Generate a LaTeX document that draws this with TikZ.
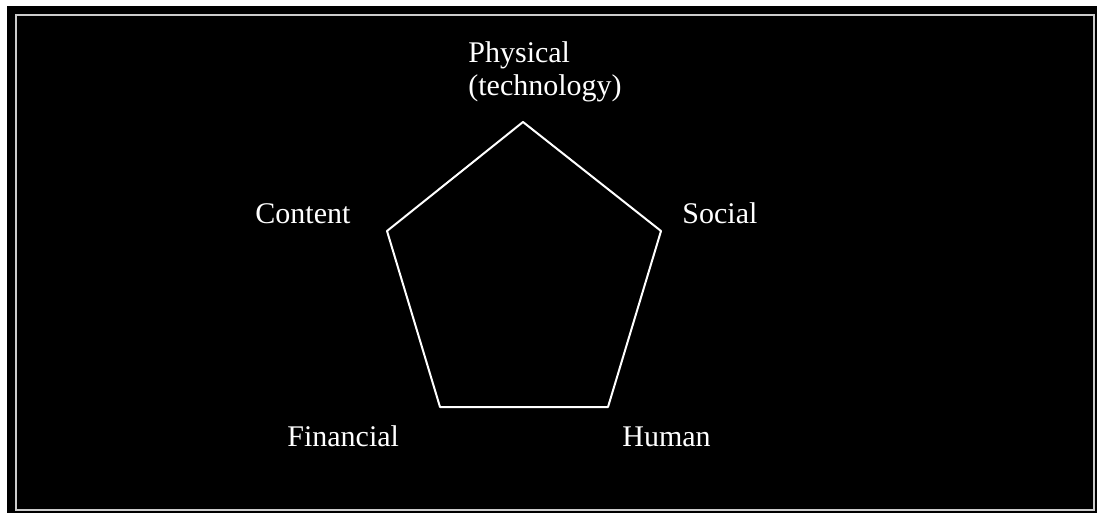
\documentclass[tikz,border=0pt]{standalone}
\usepackage{fontspec}
\setmainfont{Liberation Serif}
\usetikzlibrary{calc}

\begin{document}
\begin{tikzpicture}[x=0.5pt, y=-0.5pt, every node/.style={color=white, inner sep=0pt, font=\fontsize{15}{16.5}\selectfont}]
% frame
\fill[white] (0,0) rectangle (1106,518);
\fill[black] (7,6) rectangle (1097,513);
\draw[color=black!20, line width=1pt] (16,15.5) rectangle (1094,510);

% corners of the pentagon
\coordinate (phys) at (523,122);
\coordinate (soc) at (661,231);
\coordinate (hum) at (608,407);
\coordinate (fin) at (440,407);
\coordinate (cont) at (387,231);
\draw[white, line width=1pt, line join=round] (phys) -- (soc) -- (hum) -- (fin) -- (cont) -- cycle;

\node (physlbl) [anchor=north west, align=left] at (468,41) {Physical\\(technology)};
\node (contlbl) [anchor=base west] at (255,223) {Content};
\node (soclbl) [anchor=base west] at (682,223) {Social};
\node (finlbl) [anchor=base west] at (287,446) {Financial};
\node (humlbl) [anchor=base west] at (622,446) {Human};
\end{tikzpicture}
\end{document}
